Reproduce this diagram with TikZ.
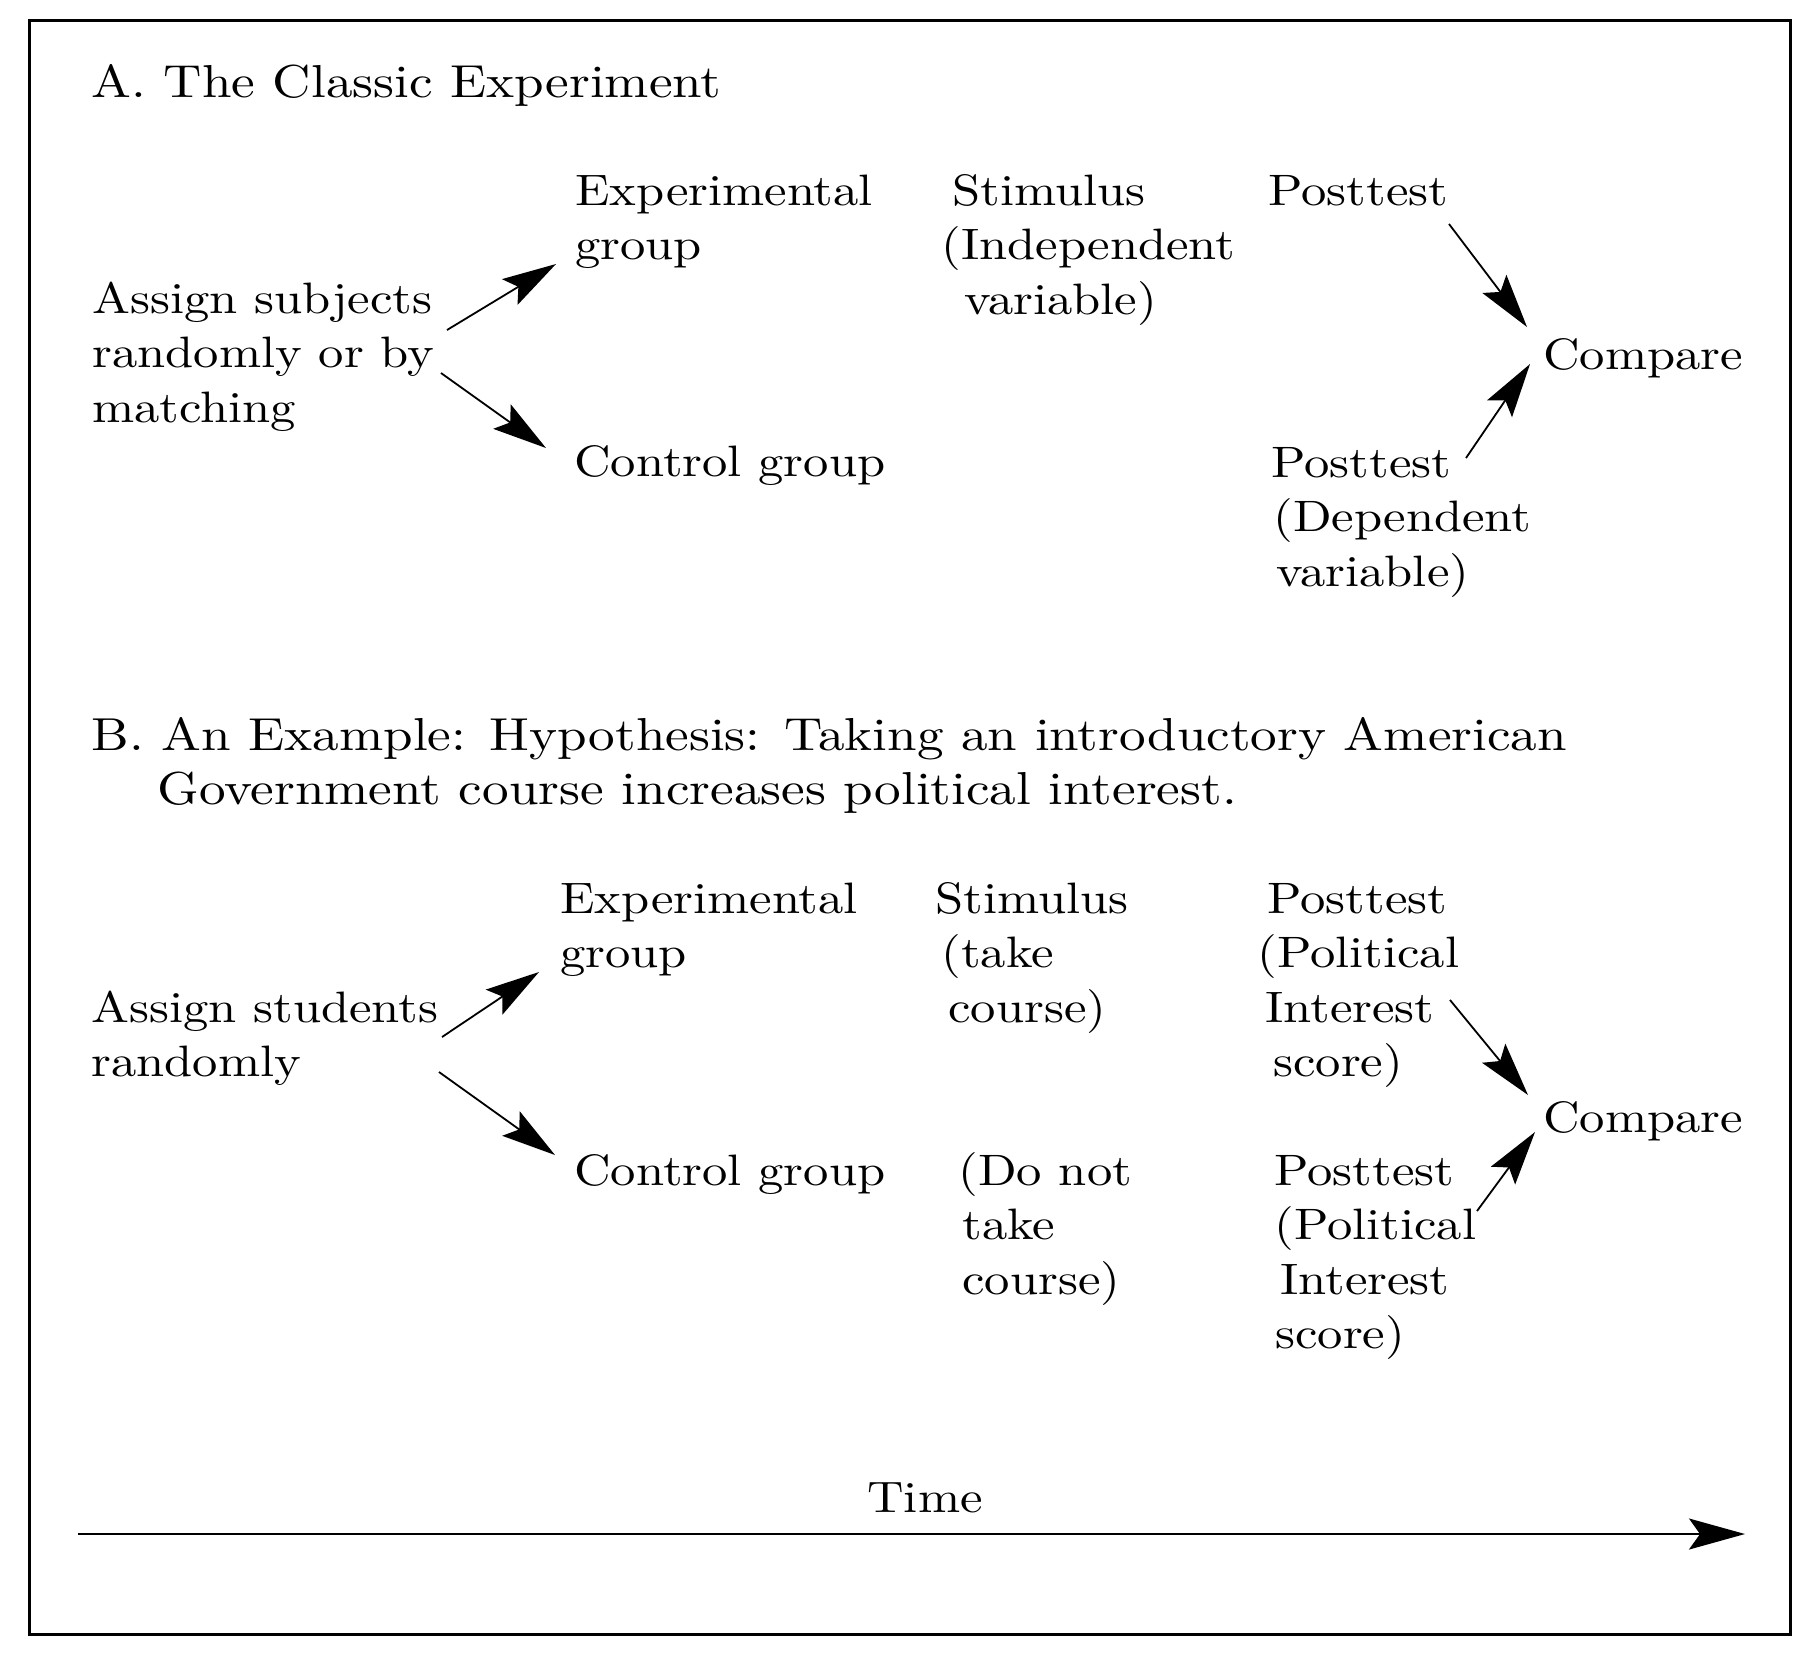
\documentclass[tikz,border=0pt]{standalone}
\usepackage{fontspec}
\setmainfont{lmroman10-regular.otf}[FakeStretch=1.15]
\usetikzlibrary{arrows.meta}

% stacked lines whose baseline is the baseline of the first line
\newcommand{\mlines}[1]{\begin{tabular}[t]{@{}l@{}}#1\end{tabular}}

\begin{document}
\begin{tikzpicture}[x=0.5pt,y=-0.5pt,
  txt/.style={anchor=base west, inner sep=0pt,
              font=\fontsize{22}{27.3}\selectfont},
  head/.style={txt, font=\fontsize{23.1}{27.2}\selectfont},
  link/.style={line width=0.9pt,
               -{Stealth[length=27pt,width=15pt,inset=5pt]}},
  timeline/.style={line width=1.1pt,
               -{Stealth[length=28pt,width=15.5pt,inset=5.5pt]}}]
\useasboundingbox (0,0) rectangle (1808,1656);
\draw[line width=1.5pt] (29,20) rectangle (1790,1634);

% Part A: the classic experiment
\node[head] (titleA) at (91,97) {A. The Classic Experiment};
\node[txt] (asgA) at (92,313) {\mlines{Assign subjects\\randomly or by\\matching}};
\node[txt] (expA) at (575,205) {\mlines{Experimental\\group}};
\node[txt] (ctlA) at (574,476) {Control group};
\node[txt] (stimA) at (941,205) {\mlines{\hspace{5.5pt}Stimulus\\(Independent\\\hspace{11.5pt}variable)}};
\node[txt] (postA1) at (1268,205) {Posttest};
\node[txt] (cmpA) at (1543,369) {Compare};
\node[txt] (postA2) at (1271,477) {\mlines{Posttest\\\hspace{1pt}(Dependent\\\hspace{2.5pt}variable)}};

\coordinate (aU1) at (447,330);  \coordinate (aU2) at (556,264);
\coordinate (aL1) at (441,373);  \coordinate (aL2) at (546,448);
\coordinate (aR1) at (1449,224); \coordinate (aR2) at (1527,327);
\coordinate (aS1) at (1466,458); \coordinate (aS2) at (1530,364);
\draw[link] (aU1) -- (aU2);
\draw[link] (aL1) -- (aL2);
\draw[link] (aR1) -- (aR2);
\draw[link] (aS1) -- (aS2);

% Part B: an example
\node[head] (titleB) at (91,750) {\mlines{B. An Example: Hypothesis: Taking an introductory American\\\hspace{33pt}Government course increases political interest.}};
\node[txt] (asgB) at (91,1022) {\mlines{Assign students\\randomly}};
\node[txt] (expB) at (560,913) {\mlines{Experimental\\group}};
\node[txt] (ctlB) at (574,1185) {Control group};
\node[txt] (stimB) at (935,913) {\mlines{Stimulus\\\hspace{3pt}(take\\\hspace{6.5pt}course)}};
\node[txt] (notB) at (958,1185) {\mlines{(Do not\\\hspace{2pt}take\\\hspace{2pt}course)}};
\node[txt] (postB1) at (1257,913) {\mlines{\hspace{5pt}Posttest\\(Political\\\hspace{4pt}Interest\\\hspace{8pt}score)}};
\node[txt] (cmpB) at (1543,1132) {Compare};
\node[txt] (postB2) at (1274,1185) {\mlines{Posttest\\(Political\\\hspace{3pt}Interest\\\hspace{0.5pt}score)}};

\coordinate (bU1) at (442,1037);  \coordinate (bU2) at (539,972);
\coordinate (bL1) at (439,1072);  \coordinate (bL2) at (555,1155);
\coordinate (bR1) at (1450,1000); \coordinate (bR2) at (1528,1095);
\coordinate (bS1) at (1477,1211); \coordinate (bS2) at (1535,1132);
\draw[link] (bU1) -- (bU2);
\draw[link] (bL1) -- (bL2);
\draw[link] (bR1) -- (bR2);
\draw[link] (bS1) -- (bS2);

% Time axis
\node[txt, anchor=base] (time) at (925,1512) {Time};
\coordinate (t1) at (78,1534);
\coordinate (t2) at (1745,1534);
\draw[timeline] (t1) -- (t2);
\end{tikzpicture}
\end{document}
